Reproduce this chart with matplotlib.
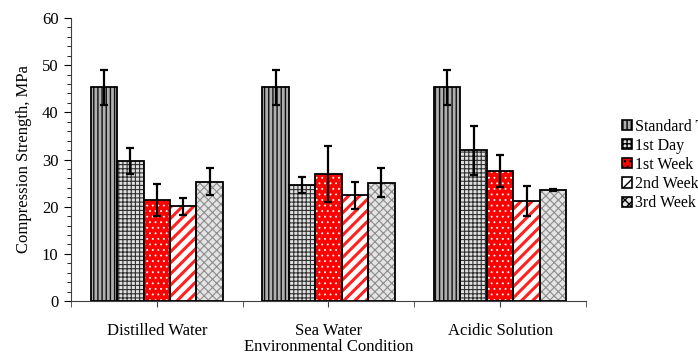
import matplotlib
matplotlib.use("Agg")
import matplotlib.pyplot as plt
import numpy as np

plt.rcParams['font.family'] = ['Liberation Serif', 'DejaVu Serif']

conditions = ['Distilled Water', 'Sea Water', 'Acidic Solution']
series = ['Standard Test', '1st Day', '1st Week', '2nd Week', '3rd Week']

standard = [45.3, 45.3, 45.3]
day1 = [29.7, 24.6, 32.0]
week1 = [21.5, 26.9, 27.5]
week2 = [20.1, 22.4, 21.2]
week3 = [25.3, 25.1, 23.5]

standard_err = [3.7, 3.7, 3.7]
day1_err = [2.7, 1.7, 5.2]
week1_err = [3.4, 6.0, 3.4]
week2_err = [1.8, 2.9, 3.2]
week3_err = [2.9, 3.1, 0.25]

values = [standard, day1, week1, week2, week3]
errors = [standard_err, day1_err, week1_err, week2_err, week3_err]

# face colour, hatch, hatch colour, hatch linewidth
styles = [
    ('#b0b0b0', '||||', '#101010', 1.0),
    ('#e0e0e0', '++++', '#303030', 0.8),
    ('#ff0000', '...', '#ffffff', 0.6),
    ('#ffffff', '///', '#ff2020', 2.2),
    ('#e4e4e4', 'xxxx', '#8c8c8c', 0.8),
]

fig = plt.figure(figsize=(6.98, 3.56), dpi=100)
ax = fig.add_axes([0.1017, 0.1545, 0.7378, 0.7949])

x = np.arange(len(conditions))
w = 0.154
handles = []
for i, (vals, errs) in enumerate(zip(values, errors)):
    fc, hatch, hc, hlw = styles[i]
    pos = x + (i - 2) * w
    with plt.rc_context({'hatch.linewidth': hlw}):
        ax.bar(pos, vals, w, color=fc, hatch=hatch, edgecolor=hc, linewidth=0, zorder=2)
        h = plt.Rectangle((0, 0), 1, 1, facecolor=fc, hatch=hatch, edgecolor='black', linewidth=1.2)
    ax.bar(pos, vals, w, fill=False, edgecolor='black', linewidth=1.3, zorder=3)
    ax.errorbar(pos, vals, yerr=errs, fmt='none', ecolor='black',
                elinewidth=1.6, capsize=3, capthick=1.6, zorder=4)
    handles.append(h)

ax.set_xlim(-0.5, 2.5)
ax.set_ylim(0, 60)
ax.set_yticks(range(0, 61, 10))
ax.set_yticks(range(0, 61, 2), minor=True)
ax.set_xticks(x)
ax.set_xticklabels(conditions, fontsize=12)
ax.set_xticks([-0.5, 0.5, 1.5, 2.5], minor=True)
ax.tick_params(axis='x', which='both', length=4, pad=12, color='#404040')
ax.tick_params(axis='y', which='major', length=5, labelsize=12, pad=4)
ax.tick_params(axis='y', which='minor', length=3)
for s in ['top', 'right']:
    ax.spines[s].set_visible(False)
ax.spines['left'].set_color('#404040')
ax.spines['bottom'].set_color('#404040')

ax.set_ylabel('Compression Strength, MPa', fontsize=12, labelpad=7)
fig.text(0.4706, 0.002, 'Environmental Condition', fontsize=12, ha='center', va='bottom')

fig.legend(handles, series, loc='upper left', bbox_to_anchor=(0.882, 0.685),
           frameon=False, fontsize=11.5, handlelength=0.6, handleheight=0.6,
           handletextpad=0.2, labelspacing=0.2, borderaxespad=0)

fig.savefig('out.png', dpi=100)
